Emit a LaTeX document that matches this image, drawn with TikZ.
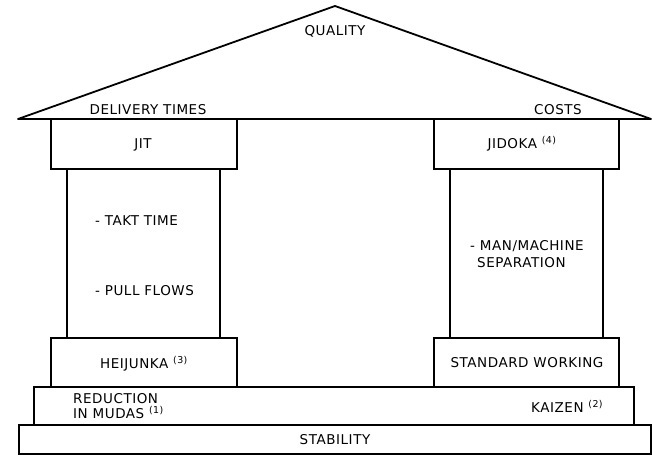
\documentclass[tikz,border=0pt]{standalone}
\usepackage{fontspec}
\setmainfont{DejaVu Sans}[LetterSpace=4]
\usepackage{tkz-euclide}
\newcommand{\fnref}[1]{\ \textsuperscript{(#1)}}

\begin{document}
\begin{tikzpicture}[x=1pt,y=-1pt,
  txt/.style={font=\fontsize{13.5}{16}\selectfont,inner sep=0pt,anchor=base},
  ltxt/.style={txt,anchor=base west},
  block/.style={line width=1.8pt}]
\useasboundingbox (0,0) rectangle (652,455);
\tkzSetUpLine[line width=1.8pt,color=black]

% roof
\tkzDefPoints{335/6/Q,18/119/R1,651/119/R2}
% capitals, shafts and bases of the pillars
\tkzDefPoints{51/119/J1,237/169/J2,434/119/K1,619/169/K2}
\tkzDefPoints{67/169/P1,220/338/P2,450/169/S1,603/338/S2}
\tkzDefPoints{51/338/H1,237/387/H2,434/338/W1,619/387/W2}
% foundations
\tkzDefPoints{34/387/M1,634/425/M2,19/425/B1,651/454/B2}

\tkzDrawPolygon(Q,R1,R2)
\foreach \a/\b in {J1/J2,K1/K2,P1/P2,S1/S2,H1/H2,W1/W2,M1/M2,B1/B2}
  \draw[block] (\a) rectangle (\b);

\node[txt] (quality) at (335,35.5) {QUALITY};
\node[txt] (delivery) at (148,114.5) {DELIVERY TIMES};
\node[txt] (costs) at (558,114.5) {COSTS};

\node[txt] (jit) at (143,148.5) {JIT};
\node[txt] (jidoka) at (522,148.5) {JIDOKA\fnref{4}};

\node[ltxt] (takt) at (95,225.5) {- TAKT TIME};
\node[ltxt] (pull) at (95,295.5) {- PULL FLOWS};
\node[ltxt] (manmach) at (470,250.5) {- MAN/MACHINE};
\node[ltxt] (separ) at (477,267.5) {SEPARATION};

\node[txt] (heijunka) at (144,368.5) {HEIJUNKA\fnref{3}};
\node[txt] (standard) at (527,367.5) {STANDARD WORKING};

\node[ltxt] (reduct) at (73,403.5) {REDUCTION};
\node[ltxt] (mudas) at (73,418.5) {IN MUDAS\fnref{1}};
\node[ltxt] (kaizen) at (531,412.5) {KAIZEN\fnref{2}};

\node[txt] (stability) at (335,444.5) {STABILITY};

\end{tikzpicture}
\end{document}
